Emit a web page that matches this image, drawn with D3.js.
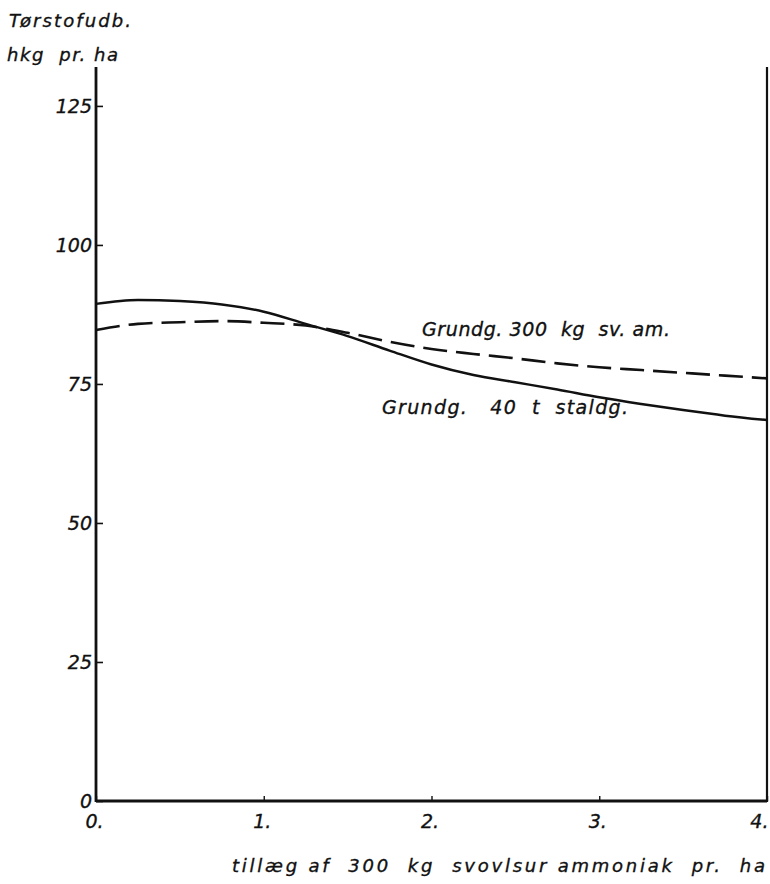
<!DOCTYPE html>
<html>
<head>
<meta charset="utf-8">
<script src="https://cdn.jsdelivr.net/npm/d3@7"></script>
<style>
  html, body { margin: 0; padding: 0; background: #fff; }
  svg text { font-family: "DejaVu Sans", "Liberation Sans", sans-serif; font-style: italic; fill: #111; stroke: #111; stroke-width: 0.35; white-space: pre; }
</style>
</head>
<body>
<svg id="chart" width="770" height="884"></svg>
<script>
// Added sulphate of ammonia, in units of 300 kg per ha
const doses = [0, 0.25, 0.5, 0.75, 1.0, 1.25, 1.5, 1.75, 2.0, 2.25, 2.5, 2.75, 3.0, 3.25, 3.5, 3.75, 4.0];
// Dry matter yield, hkg per ha — base dressing 40 t farmyard manure (solid line)
const staldgodning = [89.4, 90.1, 89.9, 89.3, 88.0, 85.8, 83.6, 81.0, 78.5, 76.6, 75.3, 74.0, 72.6, 71.4, 70.3, 69.3, 68.5];
// Dry matter yield, hkg per ha — base dressing 300 kg sulphate of ammonia (dashed line)
const svovlsurAmmoniak = [84.7, 85.8, 86.1, 86.3, 86.0, 85.5, 84.2, 82.6, 81.3, 80.4, 79.6, 78.7, 78.0, 77.5, 77.0, 76.5, 76.0];

const yTicks = [0, 25, 50, 75, 100, 125];
const xTicks = [0, 1, 2, 3, 4];
const xTickLabels = ["0.", "1.", "2.", "3.", "4."];

const svg = d3.select("#chart");
const x = d3.scaleLinear().domain([0, 4]).range([96, 767]);
const y = d3.scaleLinear().domain([0, 132]).range([801, 67]);

// Y axis: ticks point into the plot
const yAxis = svg.append("g")
  .attr("transform", `translate(${x(0)},0)`)
  .call(d3.axisLeft(y).tickValues(yTicks).tickSizeInner(-7).tickSizeOuter(0).tickPadding(4));
yAxis.select(".domain").remove();
yAxis.selectAll(".tick line").attr("stroke", "#111").attr("stroke-width", 1.6);
yAxis.selectAll(".tick text")
  .attr("font-size", 19).attr("font-family", null).attr("fill", "#111");

// X axis
const xAxis = svg.append("g")
  .attr("transform", `translate(0,${y(0)})`)
  .call(d3.axisBottom(x).tickValues(xTicks).tickFormat((d, i) => xTickLabels[i])
        .tickSizeInner(-5).tickSizeOuter(0).tickPadding(14));
xAxis.select(".domain").remove();
xAxis.selectAll(".tick line").attr("stroke", "#111").attr("stroke-width", 1.4);
xAxis.selectAll(".tick text")
  .attr("font-size", 19).attr("font-family", null).attr("fill", "#111")
  .attr("dx", -2)
  .filter(d => d === 4).attr("text-anchor", "end").attr("dx", 1);

// Frame: left axis, bottom axis, right border
const frame = svg.append("g").attr("stroke", "#111").attr("fill", "none");
frame.append("line").attr("x1", x(0)).attr("x2", x(0)).attr("y1", y(132)).attr("y2", y(0) + 1).attr("stroke-width", 2.8);
frame.append("line").attr("x1", x(0)).attr("x2", x(4)).attr("y1", y(0)).attr("y2", y(0)).attr("stroke-width", 2.8);
frame.append("line").attr("x1", x(4)).attr("x2", x(4)).attr("y1", y(132)).attr("y2", y(0) + 1).attr("stroke-width", 2.2);

// Curves
const line = d3.line().x((d, i) => x(doses[i])).y(d => y(d)).curve(d3.curveMonotoneX);

svg.append("path")
  .datum(svovlsurAmmoniak)
  .attr("d", line)
  .attr("fill", "none").attr("stroke", "#111").attr("stroke-width", 2.6)
  .attr("stroke-dasharray", "24 9");

svg.append("path")
  .datum(staldgodning)
  .attr("d", line)
  .attr("fill", "none").attr("stroke", "#111").attr("stroke-width", 2.5);

// Curve labels
svg.append("text").attr("x", 422).attr("y", 336)
  .attr("font-size", 19).attr("textLength", 248).attr("lengthAdjust", "spacing")
  .text("Grundg. 300  kg  sv. am.");
svg.append("text").attr("x", 382).attr("y", 414)
  .attr("font-size", 19).attr("textLength", 246).attr("lengthAdjust", "spacing")
  .text("Grundg.   40  t  staldg.");

// Axis titles
svg.append("text").attr("x", 9).attr("y", 27)
  .attr("font-size", 18).attr("textLength", 122).attr("lengthAdjust", "spacing")
  .text("Tørstofudb.");
svg.append("text").attr("x", 7).attr("y", 61)
  .attr("font-size", 18).attr("textLength", 111).attr("lengthAdjust", "spacing")
  .text("hkg  pr. ha");
svg.append("text").attr("x", 232).attr("y", 872)
  .attr("font-size", 18).attr("textLength", 533).attr("lengthAdjust", "spacing")
  .text("tillæg af  300  kg  svovlsur ammoniak  pr.  ha");
</script>
</body>
</html>
